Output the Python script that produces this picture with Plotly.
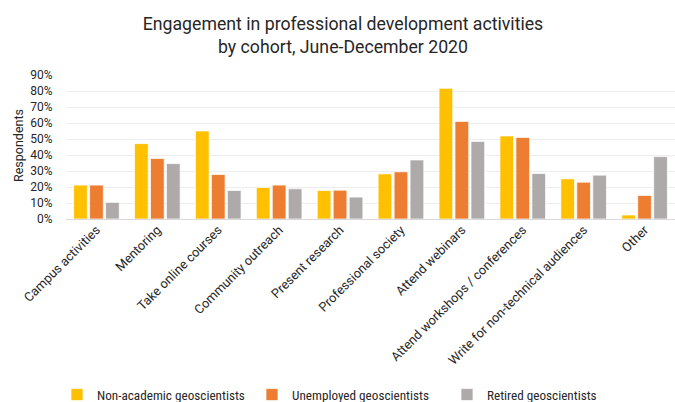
import plotly.graph_objects as go

categories = ["Campus activities", "Mentoring", "Take online courses", "Community outreach",
              "Present research", "Professional society", "Attend webinars",
              "Attend workshops / conferences", "Write for non-technical audiences", "Other"]
non_academic = [0.212, 0.471, 0.550, 0.197, 0.178, 0.282, 0.817, 0.519, 0.251, 0.025]
unemployed = [0.212, 0.378, 0.278, 0.212, 0.180, 0.295, 0.610, 0.510, 0.230, 0.147]
retired = [0.104, 0.346, 0.178, 0.189, 0.137, 0.369, 0.485, 0.284, 0.274, 0.390]
series_names = ["Non-academic geoscientists", "Unemployed geoscientists", "Retired geoscientists"]
colors = ["#FFC000", "#ED7D31", "#AEAAAA"]
y_ticks = [0, 0.1, 0.2, 0.3, 0.4, 0.5, 0.6, 0.7, 0.8, 0.9]

FONT = "Roboto, sans-serif"
FONT_C = "Roboto Condensed, Roboto, sans-serif"

fig = go.Figure()
for name, vals, col in zip(series_names, [non_academic, unemployed, retired], colors):
    fig.add_trace(go.Bar(x=categories, y=vals, name=name,
                         marker=dict(color=col, line=dict(color="rgba(255,255,255,0.7)", width=1))))

W, H = 675, 402
L, R, T, B = 66, 0, 75, 183
ph = H - T - B
pw = W - L - R

fig.update_layout(
    width=W, height=H,
    margin=dict(l=L, r=R, t=T, b=B, autoexpand=False),
    paper_bgcolor="white", plot_bgcolor="white",
    barmode="group", bargap=0.213, bargroupgap=0.144,
    font=dict(family=FONT, color="#333333", size=13),
    title=dict(text="Engagement in professional development activities<br>by cohort, June-December 2020",
               x=343 / W, xref="container", xanchor="center", y=1 - 30 / H, yanchor="middle",
               font=dict(family=FONT, size=17.7, color="#262626")),
    showlegend=True,
    legend=dict(orientation="h", x=(57 - L) / pw, xanchor="left", y=(T + ph - 395) / ph, yanchor="middle",
                font=dict(family=FONT_C, size=13.2, color="#262626"), entrywidth=150, entrywidthmode="pixels",
                traceorder="normal", itemclick=False),
    xaxis=dict(tickangle=-45, showgrid=False, showline=False, ticks="", automargin=False,
               tickfont=dict(family=FONT, size=12.8, color="#262626")),
    yaxis=dict(range=[0, 0.9], tickvals=y_ticks, tickformat=".0%", showgrid=True, gridcolor="#EDEDED",
               gridwidth=1, zeroline=True, zerolinecolor="#D9D9D9", zerolinewidth=1,
               ticks="outside", ticklen=10, tickcolor="rgba(0,0,0,0)", automargin=False,
               tickfont=dict(family=FONT, size=12, color="#262626")),
)
fig.add_annotation(text="Respondents", textangle=-90, xref="paper", yref="paper",
                   x=(18 - L) / pw, y=(T + ph - 146) / ph, xanchor="center", yanchor="middle",
                   showarrow=False, font=dict(family=FONT, size=12.5, color="#262626"))

fig.write_html("out.html")
